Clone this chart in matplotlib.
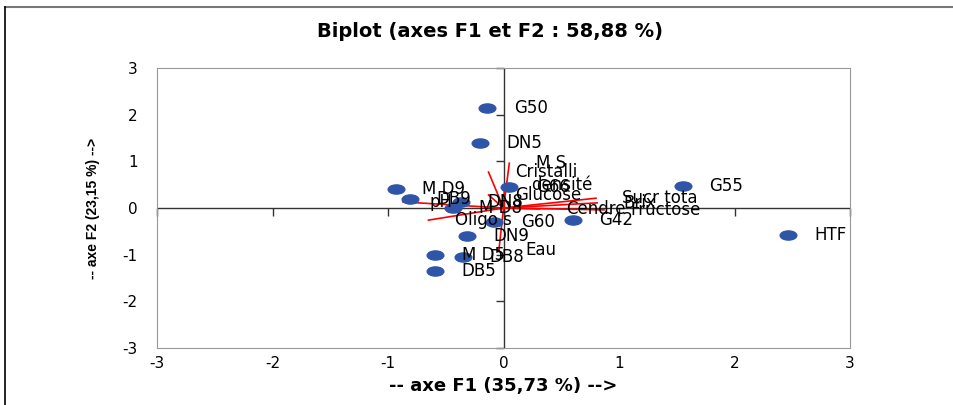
import numpy as np
import matplotlib.pyplot as plt
from matplotlib.path import Path
from matplotlib.transforms import Affine2D
from matplotlib.lines import Line2D

plt.rcParams["font.family"] = ["DejaVu Sans"]
plt.rcParams["axes.unicode_minus"] = False

# observations (F1, F2)
obs_names = ["G50", "DN5", "M D9", "DB9", "DN8", "M D8", "G66", "G55", "G60",
             "G42", "DN9", "HTF", "M D5", "DB8", "DB5"]
obs_f1 = [-0.14, -0.20, -0.93, -0.81, -0.37, -0.44, 0.05, 1.55, -0.08,
          0.60, -0.32, 2.46, -0.59, -0.35, -0.59]
obs_f2 = [2.14, 1.39, 0.41, 0.19, 0.13, 0.00, 0.45, 0.47, -0.30,
          -0.26, -0.60, -0.58, -1.00, -1.05, -1.35]

# variables (F1, F2)
var_names = ["M S", "Cristalli", "densité", "Glucose", "Sucr tota", "Brix",
             "Fructose", "Cendre", "Oligo s", "pH", "Eau"]
var_f1 = [0.05, -0.13, 0.01, -0.13, 0.80, 0.81, 0.87, 0.31, -0.65, -0.87, -0.04]
var_f2 = [0.96, 0.77, 0.49, 0.28, 0.21, 0.11, -0.04, -0.02, -0.26, 0.13, -0.90]

ticks = [-3, -2, -1, 0, 1, 2, 3]

fig = plt.figure(figsize=(9.54, 4.05), dpi=100)
ax = fig.add_axes([0.1646, 0.1407, 0.7264, 0.6914])

# outer frame of the picture
fig.add_artist(Line2D([0.005, 1.0], [0.983, 0.983], color="#777777", lw=1.5))
fig.add_artist(Line2D([0.005, 0.005], [0.0, 0.983], color="black", lw=1.2))

# zero axes with their tick marks
ax.axhline(0, color="#333333", lw=1.0, zorder=1)
ax.axvline(0, color="#333333", lw=1.0, zorder=1)
ax.plot(ticks, np.zeros(len(ticks)), ls="none", marker=3, ms=6,
        color="#333333", mew=1.0, clip_on=False, zorder=1)
ax.plot(np.zeros(len(ticks)), ticks, ls="none", marker=0, ms=6,
        color="#333333", mew=1.0, clip_on=False, zorder=1)

# variable vectors
for name, x, y in zip(var_names, var_f1, var_f2):
    ax.plot([0, x], [0, y], color="red", lw=1.2, zorder=2)
    ax.annotate(name, (x, y), xytext=(19, 0), textcoords="offset points",
                va="center", ha="left", fontsize=12, zorder=4)

# observations
ellipse = Path.unit_circle().transformed(Affine2D().scale(1.0, 0.55))
ax.plot(obs_f1, obs_f2, ls="none", marker=ellipse, ms=12,
        color="#2F55A8", zorder=3)
for name, x, y in zip(obs_names, obs_f1, obs_f2):
    ax.annotate(name, (x, y), xytext=(19, 0), textcoords="offset points",
                va="center", ha="left", fontsize=12, zorder=4)

ax.set_xlim(-3, 3)
ax.set_ylim(-3, 3)
ax.set_xticks(ticks)
ax.set_yticks(ticks)
ax.tick_params(axis="x", length=0, labelsize=11, pad=6)
ax.tick_params(axis="y", length=0, labelsize=11, pad=14)
for s in ax.spines.values():
    s.set_color("#999999")
    s.set_linewidth(0.8)

ax.set_xlabel("-- axe F1 (35,73 %) -->", fontsize=13, fontweight="bold",
              labelpad=4)
ax.set_ylabel("-- axe F2 (23,15 %) -->", family="Liberation Sans",
              fontsize=10, fontweight="bold", labelpad=16)
fig.suptitle("Biplot (axes F1 et F2 : 58,88 %)", x=0.514, y=0.945,
             fontsize=14, fontweight="bold")

fig.savefig("out.png", dpi=100)
